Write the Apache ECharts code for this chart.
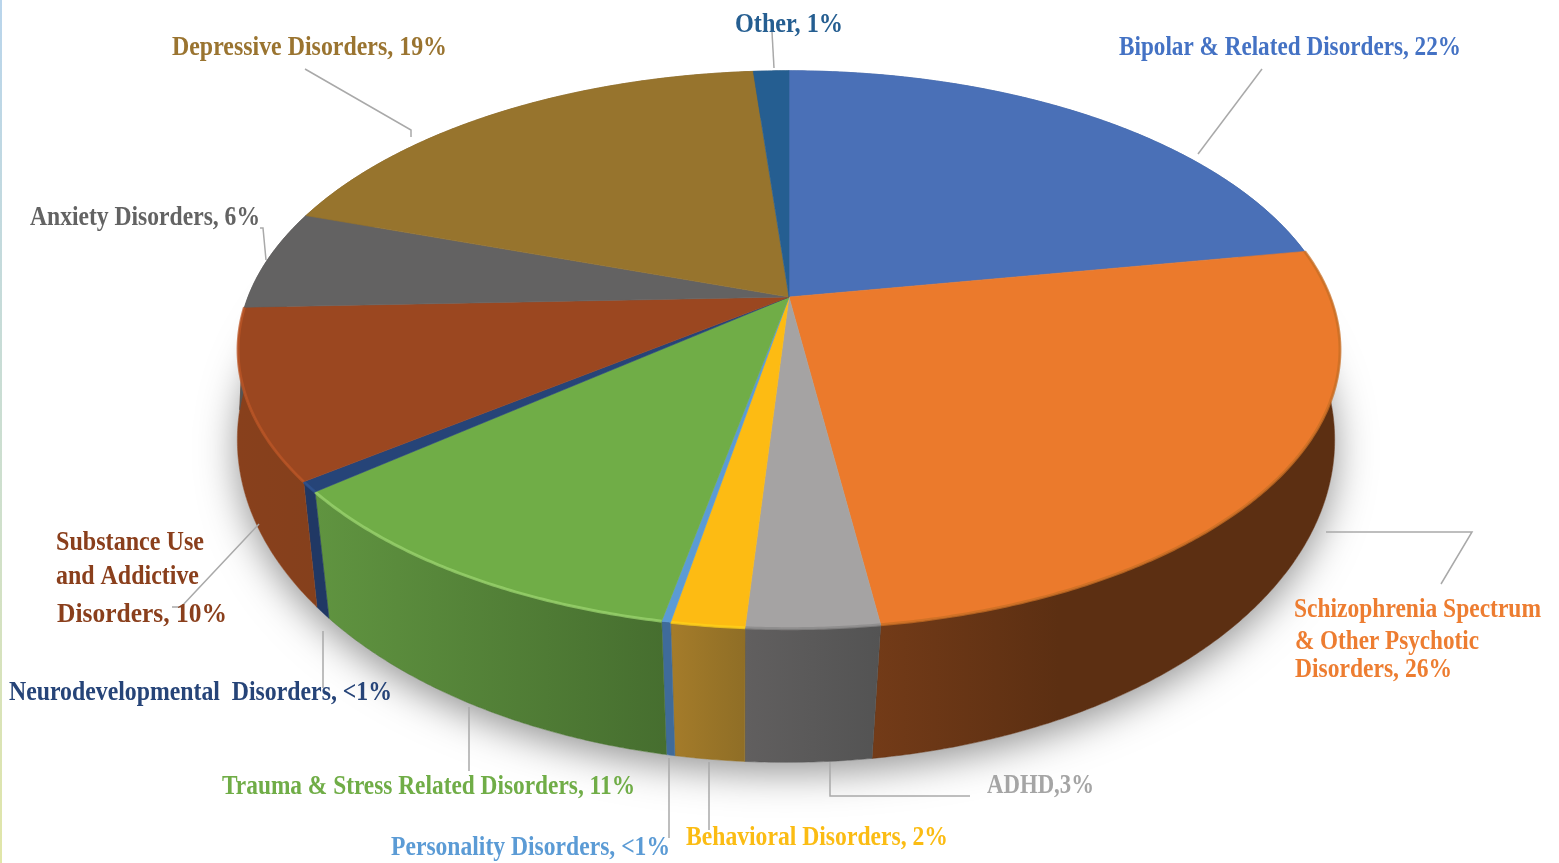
<!DOCTYPE html>
<html>
<head>
<meta charset="utf-8">
<title>Disorders pie</title>
<style>
  html, body { margin: 0; padding: 0; background: #fff; }
  #chart { width: 1559px; height: 863px; }
</style>
<script src="https://cdn.jsdelivr.net/npm/echarts@6/dist/echarts.min.js"></script>
</head>
<body>
<div id="chart"></div>
<script>
// slices, clockwise from 12 o'clock
const categories = ['Bipolar & Related Disorders', 'Schizophrenia Spectrum & Other Psychotic Disorders', 'ADHD', 'Behavioral Disorders', 'Personality Disorders', 'Trauma & Stress Related Disorders', 'Neurodevelopmental Disorders', 'Substance Use and Addictive Disorders', 'Anxiety Disorders', 'Depressive Disorders', 'Other']
const shares = [22.2, 25.6, 3.25, 1.8, 0.22, 10.93, 0.6, 9.8, 5.8, 18.55, 1.25]

const labelLines = [
  ['Bipolar & Related Disorders, 22%'],
  ['Schizophrenia Spectrum', '& Other Psychotic', 'Disorders, 26%'],
  ['ADHD,3%'],
  ['Behavioral Disorders, 2%'],
  ['Personality Disorders, <1%'],
  ['Trauma & Stress Related Disorders, 11%'],
  ['Neurodevelopmental  Disorders, <1%'],
  ['Substance Use', 'and Addictive', 'Disorders, 10%'],
  ['Anxiety Disorders, 6%'],
  ['Depressive Disorders, 19%'],
  ['Other, 1%']
]

const topColors = ['#4A70B7', '#EB7A2C', '#A5A3A3', '#FDBB13', '#5B9BD5', '#70AD47', '#264478', '#9B4720', '#636262', '#97742D', '#255E91']
const rimColors = ['#4A70B7', '#C96F24', '#8a8888', '#FFD21A', '#5B9BD5', '#9BD46F', '#2f5390', '#BC5526', '#636262', '#97742D', '#255E91']
const wallLeft = ['#3c5c96', '#733B18', '#615F5F', '#A57C2A', '#3F6B9A', '#609440', '#203864', '#88401C', '#555', '#7c5f25', '#1f4f7a']
const wallRight = ['#3c5c96', '#5C2F12', '#535353', '#8F6E26', '#3F6B9A', '#466E2F', '#203864', '#85401C', '#555', '#7c5f25', '#1f4f7a']
const labelColors = ['#4472C4', '#ED7D31', '#A5A5A5', '#FBBC13', '#5B9BD5', '#70AD47', '#264478', '#8A3F1C', '#636363', '#9A7430', '#255E91']

// where each label line sits: [left, middle y, width]
const labelBoxes = [
  [[1119, 47, 342]],
  [[1294, 609, 247], [1295, 641, 184], [1295, 669, 157]],
  [[987, 785, 107]],
  [[686, 837, 262]],
  [[391, 847, 279]],
  [[222, 786, 413]],
  [[9, 692, 383]],
  [[56, 542, 148], [56, 576, 143], [57, 614, 170]],
  [[30, 217, 230]],
  [[172, 47, 275]],
  [[735, 24, 108]]
]
const leaders = [
  [[1262, 69], [1198, 154]],
  [[1326, 532], [1472, 532], [1441, 584]],
  [[830, 762], [830, 796], [970, 796]],
  [[709, 762], [709, 830]],
  [[669, 758], [669, 838]],
  [[469, 707], [469, 771]],
  [[323, 631], [323, 688]],
  [[259, 524], [181, 607], [172, 607]],
  [[260, 228], [263, 228], [266, 260]],
  [[305, 69], [411, 130], [411, 137]],
  [[772, 32], [774, 68]]
]

// perspective of the disc: top face and bottom face
const TOP = { x: 789, y: 297, a: 541, b: 269, k: 0.189 }
const BOTTOM = { x: 786, y: 398, a: 544, b: 317, k: 0.13 }

const total = shares.reduce((s, v) => s + v, 0)
const startAngles = []
shares.reduce((s, v, i) => {
  startAngles[i] = (s / total) * Math.PI * 2
  return s + v
}, 0)

function project(theta, face) {
  const X = Math.sin(theta)
  const Y = -Math.cos(theta)
  const d = 1 - face.k * Y
  return [face.x + (face.a * X) / d, face.y + (face.b * Y) / d]
}

function arc(from, to, face) {
  const steps = Math.max(2, Math.ceil((to - from) / 0.008))
  const pts = []
  for (let i = 0; i <= steps; i++) {
    pts.push(project(from + ((to - from) * i) / steps, face))
  }
  return pts
}

function sliceRange(i) {
  return [startAngles[i], startAngles[i] + (shares[i] / total) * Math.PI * 2]
}

const chart = echarts.init(document.getElementById('chart'))
const measure = document.createElement('canvas').getContext('2d')
const FONT = 'bold 27px "Liberation Serif"'
measure.font = FONT

function renderShadow() {
  return {
    type: 'polygon',
    shape: { points: arc(0, Math.PI * 2, BOTTOM) },
    style: {
      fill: '#fff',
      shadowBlur: 38,
      shadowColor: 'rgba(0,0,0,0.42)',
      shadowOffsetX: 0,
      shadowOffsetY: 10
    }
  }
}

function renderWall(params) {
  const i = params.dataIndex
  const [from, to] = sliceRange(i)
  const points = arc(from, to, TOP).concat(arc(from, to, BOTTOM).reverse())
  const fill = new echarts.graphic.LinearGradient(0, 0, 1, 0, [
    { offset: 0, color: wallLeft[i] },
    { offset: i === 1 ? 0.4 : 1, color: wallRight[i] },
    { offset: 1, color: wallRight[i] }
  ])
  return {
    type: 'polygon',
    shape: { points },
    style: { fill, stroke: wallRight[i], lineWidth: 0.5 }
  }
}

function renderTop(params) {
  const i = params.dataIndex
  const [from, to] = sliceRange(i)
  const rim = arc(from, to, TOP)
  const children = [
    {
      type: 'polygon',
      shape: { points: [[TOP.x, TOP.y]].concat(rim) },
      style: { fill: topColors[i], stroke: topColors[i], lineWidth: 0.6 }
    }
  ]
  // bevel highlight only shows on the front edge
  if (rimColors[i] !== topColors[i]) {
    children.push({
      type: 'polyline',
      shape: { points: rim },
      style: { fill: null, stroke: rimColors[i], lineWidth: 3, opacity: 0.75 }
    })
  }
  return { type: 'group', children }
}

function renderLabel(params) {
  const i = params.dataIndex
  const children = [
    {
      type: 'polyline',
      shape: { points: leaders[i] },
      style: { fill: null, stroke: '#A9A9A9', lineWidth: 1.5 }
    }
  ]
  labelLines[i].forEach((line, n) => {
    const [x, y, w] = labelBoxes[i][n]
    children.push({
      type: 'text',
      x,
      y: y + 1,
      scaleX: w / measure.measureText(line).width,
      style: {
        text: line,
        font: FONT,
        fill: labelColors[i],
        textAlign: 'left',
        textVerticalAlign: 'middle'
      }
    })
  })
  return { type: 'group', children }
}

const sliceData = shares.map((v, i) => ({ name: categories[i], value: [i, v] }))

chart.setOption({
  backgroundColor: '#fff',
  animation: false,
  graphic: [
    {
      type: 'rect',
      shape: { x: 0, y: 0, width: 2, height: 863 },
      style: {
        fill: new echarts.graphic.LinearGradient(0, 0, 0, 1, [
          { offset: 0, color: '#B9D5EC' },
          { offset: 0.6, color: '#CFE0CC' },
          { offset: 1, color: '#E1E6A8' }
        ])
      },
      silent: true
    }
  ],
  series: [
    { type: 'custom', coordinateSystem: 'none', z: 1, silent: true, data: [[0]], renderItem: renderShadow },
    { type: 'custom', coordinateSystem: 'none', z: 2, silent: true, data: sliceData, renderItem: renderWall },
    { type: 'custom', coordinateSystem: 'none', z: 3, silent: true, data: sliceData, renderItem: renderTop },
    { type: 'custom', coordinateSystem: 'none', z: 4, silent: true, data: sliceData, renderItem: renderLabel }
  ]
})

window.addEventListener('resize', () => chart.resize())
</script>
</body>
</html>
